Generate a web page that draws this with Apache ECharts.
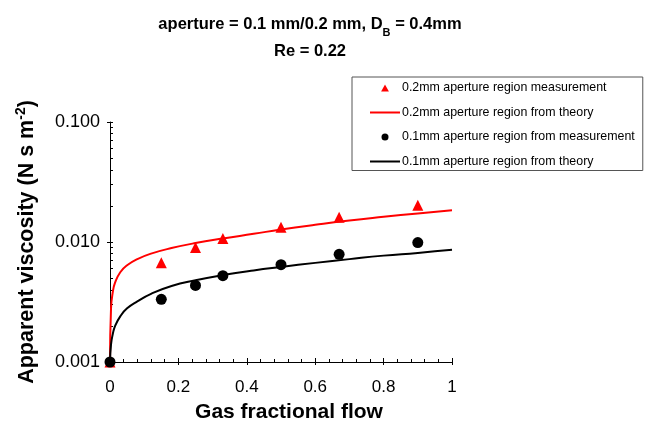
<!DOCTYPE html>
<html><head><meta charset="utf-8">
<script src="https://cdn.jsdelivr.net/npm/echarts@6/dist/echarts.min.js"></script>
<style>html,body{margin:0;padding:0;background:#fff}#c{width:648px;height:423px}</style>
</head><body><div id="c"></div>
<script>
// Measurement points
const measX = [0, 0.15, 0.25, 0.33, 0.5, 0.67, 0.9];
const meas02 = [0.001, 0.0067, 0.0090, 0.0107, 0.0133, 0.0161, 0.0202];
const meas01 = [0.001, 0.00333, 0.00435, 0.00524, 0.00647, 0.0079, 0.0099];
// Theory curves
const theoryX = [0, 0.003, 0.008, 0.015, 0.03, 0.05, 0.08, 0.12, 0.18, 0.25, 0.33, 0.42, 0.5, 0.6, 0.7, 0.8, 0.9, 1.0];
const theory02 = [0.001, 0.0028, 0.0038, 0.0046, 0.0056, 0.0064, 0.0072, 0.0080, 0.0089, 0.0098, 0.0107, 0.0117, 0.0127, 0.0139, 0.0151, 0.0162, 0.0173, 0.0184];
const theory01 = [0.001, 0.0014, 0.0017, 0.0020, 0.0024, 0.0028, 0.0032, 0.0037, 0.0043, 0.0048, 0.0053, 0.0058, 0.0062, 0.0067, 0.0072, 0.0077, 0.0081, 0.0086];
// Axis ticks
const yMinor = [0.001,0.002,0.003,0.004,0.005,0.006,0.007,0.008,0.009,0.01,0.02,0.03,0.04,0.05,0.06,0.07,0.08,0.09,0.1];
const names = ['0.2mm aperture region measurement','0.2mm aperture region from theory','0.1mm aperture region from measurement','0.1mm aperture region from theory'];

const zip = (xs, ys) => xs.map((x, i) => [x, ys[i]]);
const FONT = 'Liberation Sans, Arial, sans-serif';
const LINE_ICON = 'path://M0,0 L30,0 L30,2 L0,2 Z';
const TRI_ICON = 'path://M5,0 L10,9 L0,9 Z';
const chart = echarts.init(document.getElementById('c'), null, {renderer: 'canvas'});
chart.setOption({
  animation: false,
  backgroundColor: '#fff',
  textStyle: {fontFamily: FONT},
  title: {
    left: 305, top: 6, textAlign: 'center',
    text: '{b|aperture = 0.1 mm/0.2 mm, D}{s|B}{b| = 0.4mm}\n{b|Re = 0.22}',
    textStyle: {
      rich: {
        b: {fontFamily: FONT, fontWeight: 'bold', fontSize: 16.5, color: '#000', lineHeight: 27},
        s: {fontFamily: FONT, fontWeight: 'bold', fontSize: 11, color: '#000', lineHeight: 27, verticalAlign: 'bottom', padding: [8, 0, 0, 0]}
      }
    }
  },
  legend: {
    orient: 'vertical', left: 352, top: 77,
    padding: [5, 8, 3, 18],
    itemWidth: 30, itemHeight: 7, itemGap: 12.5,
    borderColor: '#555', borderWidth: 1,
    textStyle: {fontFamily: FONT, fontSize: 12.4, color: '#000', padding: [0, 0, 0, -3]},
    data: [
      {name: names[0], icon: TRI_ICON},
      {name: names[1], icon: LINE_ICON},
      {name: names[2], icon: 'circle'},
      {name: names[3], icon: LINE_ICON}
    ]
  },
  grid: {left: 110, right: 196, top: 122, bottom: 61, containLabel: false, outerBoundsMode: 'none'},
  xAxis: [{
    type: 'value', min: 0, max: 1, interval: 0.2,
    axisLine: {lineStyle: {color: '#000', width: 1}},
    axisTick: {inside: true, length: 4, lineStyle: {color: '#000'}},
    minorTick: {show: true, splitNumber: 5, length: 3, lineStyle: {color: '#000'}},
    splitLine: {show: false},
    axisLabel: {fontFamily: FONT, fontSize: 17, color: '#000', margin: 17, formatter: v => String(+v.toFixed(1))},
    name: 'Gas fractional flow', nameLocation: 'middle', nameGap: 40,
    nameTextStyle: {fontFamily: FONT, fontWeight: 'bold', fontSize: 21, color: '#000', padding: [0, 0, 0, 16]}
  }, {
    type: 'value', min: 0, max: 1, interval: 0.2, position: 'bottom',
    axisLine: {show: false},
    axisTick: {inside: false, length: 3, lineStyle: {color: '#000'}},
    axisLabel: {show: false}, splitLine: {show: false}
  }],
  yAxis: [{
    type: 'log', logBase: 10, min: 0.001, max: 0.1,
    axisLine: {show: true, lineStyle: {color: '#000', width: 1}},
    axisTick: {show: true, inside: false, length: 3, lineStyle: {color: '#000'}},
    splitLine: {show: false},
    axisLabel: {fontFamily: FONT, fontSize: 18, color: '#000', margin: 10, formatter: v => v.toFixed(3)},
    name: '{a|Apparent viscosity (N s m}{p|-2}{a|)}', nameLocation: 'middle', nameGap: 70, nameRotate: 90,
    nameTextStyle: {
      rich: {
        a: {fontFamily: FONT, fontWeight: 'bold', fontSize: 21.5, color: '#000', lineHeight: 26},
        p: {fontFamily: FONT, fontWeight: 'bold', fontSize: 14, color: '#000', lineHeight: 26, verticalAlign: 'top', padding: [0, 0, 8, 0]}
      }
    }
  }, {
    type: 'log', logBase: 10, min: 0.001, max: 0.1, position: 'left',
    axisLine: {show: false},
    axisTick: {show: true, inside: true, length: 3, customValues: yMinor, lineStyle: {color: '#000'}},
    axisLabel: {show: false}, splitLine: {show: false}
  }],
  series: [
    {name: names[1], type: 'line', data: zip(theoryX, theory02), symbol: 'none', smooth: 0.5,
     lineStyle: {color: '#ff0000', width: 2}, itemStyle: {color: '#ff0000'}, z: 2},
    {name: names[3], type: 'line', data: zip(theoryX, theory01), symbol: 'none', smooth: 0.5,
     lineStyle: {color: '#000', width: 2}, itemStyle: {color: '#000'}, z: 2},
    {name: names[0], type: 'scatter', data: zip(measX, meas02), symbol: 'triangle', symbolSize: 11,
     itemStyle: {color: '#ff0000', opacity: 1}, z: 3},
    {name: names[2], type: 'scatter', data: zip(measX, meas01), symbol: 'circle', symbolSize: 11,
     itemStyle: {color: '#000', opacity: 1}, z: 4}
  ]
});
</script>
</body></html>
